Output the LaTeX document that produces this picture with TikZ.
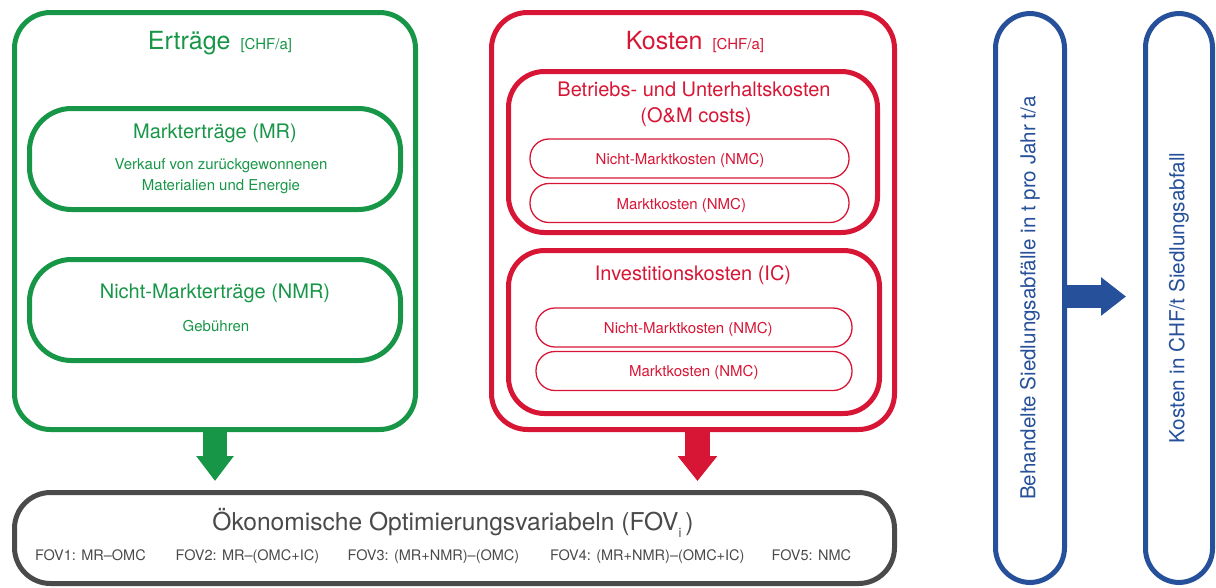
\documentclass[tikz,border=0pt]{standalone}
\usepackage{fontspec}
\setmainfont{TeX Gyre Heros}
\usetikzlibrary{arrows.meta,calc}
\definecolor{eg}{RGB}{24,150,72}
\definecolor{kr}{RGB}{215,22,54}
\definecolor{dg}{RGB}{74,74,74}
\definecolor{bl}{RGB}{38,80,154}
\newcommand{\fsz}[1]{\fontsize{#1}{#1}\selectfont}
\begin{document}
\begin{tikzpicture}[x=1pt,y=-1pt,
  every node/.style={inner sep=0pt, outer sep=0pt},
  frame/.style={draw, line width=5pt, rounded corners=#1},
  smallpill/.style={draw, line width=1.3pt, rounded corners=19pt, minimum height=39pt},
  bluepill/.style={draw=bl, text=bl, line width=5pt, rounded corners=#1, rotate=90, minimum width=569pt},
  lbl/.style={anchor=base},
  fovlbl/.style={anchor=base west, text=dg, font=\fsz{14.5}},
  blockarrow/.style={line width=#1},
]
\useasboundingbox (0,0) rectangle (1216,587);

% ---------- Erträge ----------
\node[frame=36pt, draw=eg, minimum width=401pt, minimum height=417pt] (ertr) at (215,221) {};
\node[frame=42pt, draw=eg, minimum width=371pt, minimum height=101pt] (mr) at (215,159) {};
\node[frame=42pt, draw=eg, minimum width=371pt, minimum height=101pt] (nmr) at (215,310) {};
\node[lbl, text=eg] (ertrT) at (220,49.3) {\fsz{25}Erträge\hspace{10pt}{\fsz{15}[CHF/a]}};
\node[lbl, text=eg] (mrT) at (215,138) {\fsz{20}Markterträge (MR)};
\node[lbl, text=eg] (mrA) at (221,169.5) {\fsz{15}Verkauf von zurückgewonnenen};
\node[lbl, text=eg] (mrB) at (221,190.7) {\fsz{15}Materialien und Energie};
\node[lbl, text=eg] (nmrT) at (215,298.3) {\fsz{20}Nicht-Markterträge (NMR)};
\node[lbl, text=eg] (nmrA) at (216,331) {\fsz{15}Gebühren};

% ---------- Kosten ----------
\node[frame=36pt, draw=kr, minimum width=403pt, minimum height=417pt] (kost) at (693,221) {};
\node[lbl, text=kr] (kostT) at (695,49.3) {\fsz{25}Kosten\hspace{10pt}{\fsz{15}[CHF/a]}};
\node[frame=36pt, draw=kr, minimum width=369pt, minimum height=161pt] (om) at (693,152) {};
\node[lbl, text=kr] (omT) at (694,96.7) {\fsz{20}Betriebs- und Unterhaltskosten};
\node[lbl, text=kr] (omT2) at (696,122.5) {\fsz{20}(O\&M costs)};
\node[smallpill, draw=kr, minimum width=319pt] (om1) at (689.5,158.5) {};
\node[lbl, text=kr] (om1T) at (680,164) {\fsz{15}Nicht-Marktkosten (NMC)};
\node[smallpill, draw=kr, minimum width=319pt] (om2) at (689.5,203) {};
\node[lbl, text=kr] (om2T) at (681.3,209) {\fsz{15}Marktkosten (NMC)};

\node[frame=36pt, draw=kr, minimum width=371pt, minimum height=163pt] (ic) at (694,332) {};
\node[lbl, text=kr] (icT) at (693,280) {\fsz{20}Investitionskosten (IC)};
\node[smallpill, draw=kr, minimum width=316pt] (ic1) at (694,327.5) {};
\node[lbl, text=kr] (ic1T) at (688.3,333) {\fsz{15}Nicht-Marktkosten (NMC)};
\node[smallpill, draw=kr, minimum width=316pt] (ic2) at (694,371) {};
\node[lbl, text=kr] (ic2T) at (693.8,376.7) {\fsz{15}Marktkosten (NMC)};

% ---------- FOV ----------
\node[frame=36pt, draw=dg, minimum width=880pt, minimum height=91pt] (fov) at (454.5,538) {};
\node[lbl, text=dg] (fovT) at (453,530) {\fsz{24.6}Ökonomische Optimierungsvariabeln (FOV\raisebox{-7pt}{\fsz{13}i}\hspace{4pt})};
\node[fovlbl] (f1) at (35,560) {FOV1: MR–OMC};
\node[fovlbl] (f2) at (175.7,560) {FOV2: MR–(OMC+IC)};
\node[fovlbl] (f3) at (347.7,560) {FOV3: (MR+NMR)–(OMC)};
\node[fovlbl] (f4) at (550,560) {FOV4: (MR+NMR)–(OMC+IC)};
\node[fovlbl] (f5) at (771.7,560) {FOV5: NMC};

% ---------- arrows down ----------
\coordinate (gtip) at (215,481);
\coordinate (rtop) at (697.5,430);
\coordinate (rtip) at (697.5,481);
\draw[eg, blockarrow=24pt, -{Triangle[width=36pt,length=25pt]}] (ertr.south) -- (gtip);
\draw[kr, blockarrow=25pt, -{Triangle[width=38pt,length=25pt]}] (rtop) -- (rtip);

% ---------- blue pills ----------
\node[bluepill=35pt, minimum height=69pt] (tons) at (1030,298) {\fsz{20.6}Behandelte Siedlungsabfälle in t pro Jahr t/a};
\node[bluepill=34pt, minimum height=67pt] (chf) at (1179,298) {\fsz{20.7}Kosten in CHF/t Siedlungsabfall};
\coordinate (btip) at (1126,296.5);
\draw[bl, blockarrow=23pt, -{Triangle[width=37pt,length=25pt]}] ([yshift=1.5pt]tons.south) -- (btip);
\end{tikzpicture}
\end{document}
